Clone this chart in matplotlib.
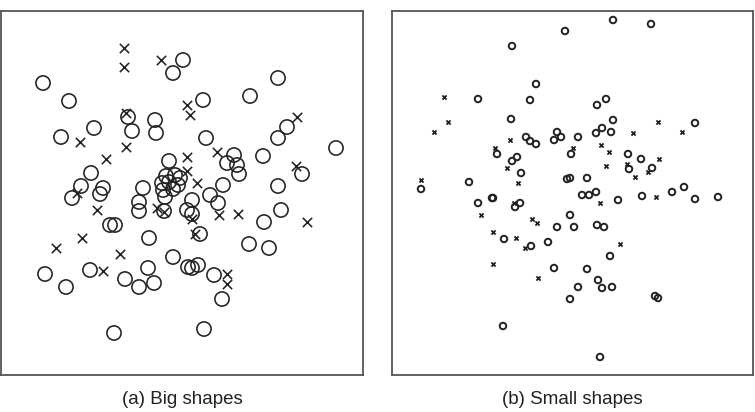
import matplotlib
matplotlib.use("Agg")
import matplotlib.pyplot as plt

# ---- Panel (a): big shapes (values in arbitrary plot units, y grows downward) ----
big_circle_x = [43, 69, 183, 173, 128, 132, 155, 156, 94, 61, 169, 91, 81, 103, 100, 72, 143,
                278, 250, 203, 287, 278, 206, 234, 227, 263, 336, 302, 239, 223, 278, 210, 192,
                139, 139, 164, 187, 110, 115, 149, 173, 45, 90, 148, 125, 139, 154, 66, 114,
                188, 218, 192, 264, 281, 200, 249, 269, 192, 198, 214, 222, 204,
                166, 175, 180, 162, 169, 178, 163, 173, 165, 237]
big_circle_y = [83, 101, 60, 73, 117, 131, 120, 133, 128, 137, 161, 173, 186, 188, 194, 198, 188,
                78, 96, 100, 127, 138, 138, 155, 163, 156, 148, 174, 174, 185, 186, 195, 200,
                202, 211, 211, 210, 225, 225, 238, 257, 274, 270, 268, 279, 287, 283, 287, 333,
                267, 203, 214, 222, 210, 234, 244, 248, 268, 265, 275, 299, 329,
                176, 175, 178, 183, 182, 185, 190, 189, 197, 165]
big_cross_x = [124, 124, 161, 187, 190, 126, 80, 126, 106, 187, 297, 217, 187, 296, 197, 77,
               97, 157, 82, 56, 120, 103, 192, 219, 238, 307, 195, 227, 227, 164]
big_cross_y = [48, 67, 60, 105, 115, 113, 142, 147, 159, 157, 117, 152, 171, 166, 183, 193,
               210, 208, 238, 248, 254, 271, 219, 215, 214, 222, 234, 274, 284, 212]

# ---- Panel (b): small shapes ----
small_circle_x = [565, 512, 613, 651, 536, 530, 478, 511, 526, 530, 536, 557, 561, 554, 497, 517,
                  512, 521, 567, 469, 421, 571, 493, 606, 597, 613, 695, 602, 596, 611, 578, 628,
                  641, 629, 652, 587, 570, 582, 589, 596, 642, 672, 684, 695, 718, 618, 478, 492,
                  515, 520, 557, 570, 574, 504, 531, 548, 554, 570, 503, 597, 604, 610, 587, 598,
                  578, 602, 612, 655, 658, 600]
small_circle_y = [31, 46, 20, 24, 84, 100, 99, 119, 137, 141, 144, 132, 137, 140, 154, 157,
                  161, 173, 179, 182, 189, 154, 198, 99, 105, 120, 123, 128, 133, 132, 137, 154,
                  159, 169, 168, 178, 178, 195, 195, 192, 196, 192, 187, 199, 197, 200, 203, 198,
                  207, 203, 227, 215, 227, 239, 246, 242, 268, 299, 326, 225, 227, 256, 269, 280,
                  287, 288, 287, 296, 298, 357]
small_cross_x = [444, 448, 434, 510, 495, 507, 518, 421, 573, 658, 682, 633, 601, 609, 659, 606,
                 627, 648, 635, 656, 514, 481, 532, 537, 493, 516, 525, 493, 538, 600, 620]
small_cross_y = [97, 122, 132, 140, 148, 168, 183, 180, 148, 122, 132, 133, 145, 152, 159, 166,
                 164, 172, 177, 197, 203, 215, 219, 223, 232, 238, 248, 264, 278, 203, 244]

captions = ["(a) Big shapes", "(b) Small shapes"]

W, H = 755, 412
fig = plt.figure(figsize=(W / 100, H / 100), dpi=100)

frame_color = "#555555"
mark_color = "#222222"

def make_ax(left_px, right_px, top_px, bottom_px):
    ax = fig.add_axes([left_px / W, 1 - bottom_px / H,
                       (right_px - left_px) / W, (bottom_px - top_px) / H])
    ax.set_xticks([])
    ax.set_yticks([])
    for s in ax.spines.values():
        s.set_color(frame_color)
        s.set_linewidth(1.3)
    return ax

ax1 = make_ax(1, 363, 11, 375)
ax1.set_xlim(1, 363)
ax1.set_ylim(375, 11)
ax1.scatter(big_circle_x, big_circle_y, s=105, marker="o", facecolors="none",
            edgecolors=mark_color, linewidths=1.15)
ax1.scatter(big_cross_x, big_cross_y, s=45, marker="x", color=mark_color, linewidths=1.15)

ax2 = make_ax(392, 753, 11, 375)
ax2.set_xlim(392, 753)
ax2.set_ylim(375, 11)
ax2.scatter(small_circle_x, small_circle_y, s=22, marker="o", facecolors="none",
            edgecolors=mark_color, linewidths=1.4)
ax2.scatter(small_cross_x, small_cross_y, s=9, marker="x", color=mark_color, linewidths=1.3)

font = ["Liberation Sans", "DejaVu Sans"]
for ax, cap in zip([ax1, ax2], captions):
    ax.text(0.5, -0.045, cap, transform=ax.transAxes, ha="center", va="top",
            fontsize=13.5, family=font, color=mark_color)

fig.savefig("out.png", dpi=100)
